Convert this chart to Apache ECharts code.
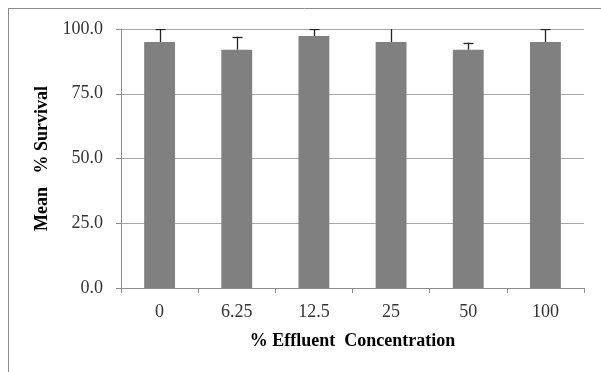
<!DOCTYPE html>
<html><head><meta charset="utf-8">
<script src="https://cdn.jsdelivr.net/npm/echarts@6/dist/echarts.min.js"></script>
<style>html,body{margin:0;padding:0;background:#fff}#c{width:601px;height:372px}</style>
</head><body><div id="c"></div>
<script>
var categories = ['0', '6.25', '12.5', '25', '50', '100'];
var meanSurvival = [95, 92, 97.3, 95, 92, 95];
var errorUp = [5, 5, 2.7, 6, 2.7, 5];
var yTicks = [0, 25, 50, 75, 100];

var chart = echarts.init(document.getElementById('c'));
var font = '"Liberation Serif", "Times New Roman", serif';
chart.setOption({
  animation: false,
  graphic: [
    {type: 'line', shape: {x1: 8, y1: 8.5, x2: 601, y2: 8.5}, style: {stroke: '#8c8c8c', lineWidth: 1}},
    {type: 'line', shape: {x1: 8.5, y1: 8, x2: 8.5, y2: 372}, style: {stroke: '#8c8c8c', lineWidth: 1}}
  ],
  grid: {left: 121, right: 17, top: 29, bottom: 84},
  xAxis: {
    type: 'category', data: categories,
    name: '% Effluent  Concentration', nameLocation: 'middle', nameGap: 44,
    nameTextStyle: {fontFamily: font, fontWeight: 'bold', fontSize: 18, color: '#000'},
    axisLine: {lineStyle: {color: '#8c8c8c'}},
    axisTick: {show: true, length: 5, alignWithLabel: false, lineStyle: {color: '#8c8c8c'}},
    axisLabel: {fontFamily: font, fontSize: 18, color: '#333', margin: 15}
  },
  yAxis: {
    type: 'value', min: 0, max: 100, interval: 25,
    name: 'Mean   % Survival', nameLocation: 'middle', nameGap: 65,
    nameTextStyle: {fontFamily: font, fontWeight: 'bold', fontSize: 18, color: '#000'},
    axisLine: {show: true, lineStyle: {color: '#8c8c8c'}},
    axisTick: {show: true, length: 5, lineStyle: {color: '#8c8c8c'}},
    splitLine: {lineStyle: {color: '#a6a6a6'}},
    axisLabel: {fontFamily: font, fontSize: 18, color: '#333', margin: 18,
      formatter: function (v) { return v.toFixed(1); }}
  },
  series: [
    {type: 'bar', data: meanSurvival, barWidth: '40%', itemStyle: {color: '#808080'}},
    {type: 'custom', clip: true, z: 5,
      data: meanSurvival.map(function (v, i) { return [i, v, v + errorUp[i]]; }),
      renderItem: function (params, api) {
        var base = api.coord([api.value(0), api.value(1)]);
        var top = api.coord([api.value(0), api.value(2)]);
        var x = Math.round(base[0]) + 0.5;
        return {type: 'group', children: [
          {type: 'line', shape: {x1: x, y1: base[1], x2: x, y2: top[1]}, style: {stroke: '#222', lineWidth: 1.3}},
          {type: 'line', shape: {x1: x - 5, y1: Math.round(top[1]) + 0.5, x2: x + 5, y2: Math.round(top[1]) + 0.5}, style: {stroke: '#222', lineWidth: 1.3}}
        ]};
      }
    }
  ]
});
</script></body></html>
